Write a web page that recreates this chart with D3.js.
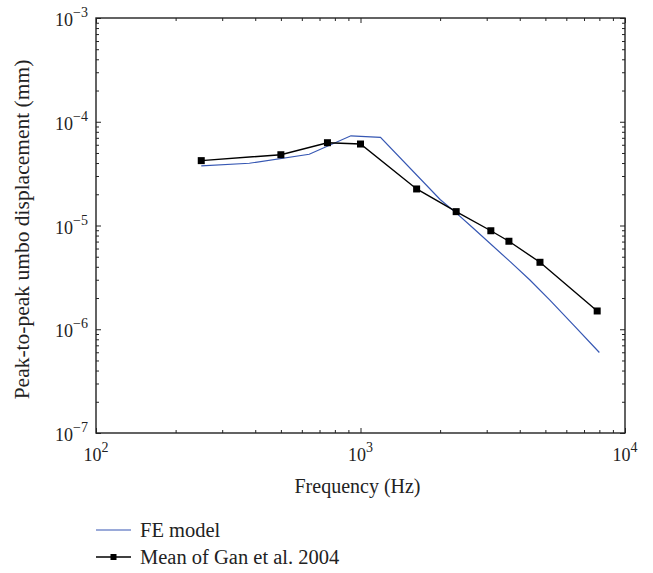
<!DOCTYPE html>
<html>
<head>
<meta charset="utf-8">
<script src="https://cdn.jsdelivr.net/npm/d3@7"></script>
<style>
  html, body { margin: 0; padding: 0; background: #fff; }
  svg { display: block; }
  text { font-family: "Liberation Serif", "DejaVu Serif", serif; fill: #222; }
</style>
</head>
<body>
<svg id="chart" width="653" height="573"></svg>
<script>
// FE model umbo response
const feFreq = [250, 380, 640, 920, 1190, 2000, 2310, 2670, 3680, 4370, 5200, 6380, 8000];
const feDisp = [3.75e-5, 3.98e-5, 4.86e-5, 7.32e-5, 7.08e-5, 1.78e-5, 1.31e-5, 9.4e-6, 4.48e-6, 2.98e-6, 1.91e-6, 1.10e-6, 5.97e-7];

// Mean measured response (Gan et al. 2004)
const ganFreq = [250, 500, 750, 1000, 1630, 2300, 3110, 3640, 4770, 7850];
const ganDisp = [4.22e-5, 4.81e-5, 6.28e-5, 6.10e-5, 2.25e-5, 1.36e-5, 8.9e-6, 7.05e-6, 4.42e-6, 1.50e-6];

// Axis ticks (powers of ten)
const xMajorExp = [2, 3, 4];
const yMajorExp = [-7, -6, -5, -4, -3];

const legendLabels = ["FE model", "Mean of Gan et al. 2004"];
const xTitle = "Frequency (Hz)";
const yTitle = "Peak-to-peak umbo displacement (mm)";

const blue = "#3657b3";
const margin = { left: 96, top: 18 };
const W = 529, H = 415;

const svg = d3.select("#chart");
const g = svg.append("g").attr("transform", `translate(${margin.left},${margin.top})`);

const x = d3.scaleLog().domain([1e2, 1e4]).range([0, W]);
const y = d3.scaleLog().domain([1e-7, 1e-3]).range([H, 0]);

const xMajor = xMajorExp.map(e => Math.pow(10, e));
const yMajor = yMajorExp.map(e => Math.pow(10, e));
const minorOf = (exps) => {
  const out = [];
  for (let i = 0; i < exps.length - 1; i++)
    for (let m = 2; m <= 9; m++) out.push(m * Math.pow(10, exps[i]));
  return out;
};
const xMinor = minorOf(xMajorExp);
const yMinor = minorOf(yMajorExp);

function tickAxis(axisFn, scale, values, size) {
  return axisFn(scale).tickValues(values).tickSize(-size).tickFormat("");
}

function addAxis(transform, axis) {
  const a = g.append("g").attr("transform", transform).call(axis);
  a.select(".domain").remove();
  a.selectAll("line").attr("stroke", "#222").attr("stroke-width", 1);
  return a;
}

// inward ticks on all four sides
[[`translate(0,${H})`, d3.axisBottom, x], ["translate(0,0)", d3.axisTop, x],
 ["translate(0,0)", d3.axisLeft, y], [`translate(${W},0)`, d3.axisRight, y]].forEach(([t, fn, sc]) => {
  const isX = sc === x;
  addAxis(t, tickAxis(fn, sc, isX ? xMajor : yMajor, 5));
  addAxis(t, tickAxis(fn, sc, isX ? xMinor : yMinor, 3));
});

// frame
g.append("rect").attr("x", 0).attr("y", 0).attr("width", W).attr("height", H)
  .attr("fill", "none").attr("stroke", "#222").attr("stroke-width", 1.4);

// tick labels with superscript exponents
const fmtExp = e => (e < 0 ? "\u2212" + Math.abs(e) : String(e));

const xl = g.append("g").selectAll("text").data(xMajorExp).join("text")
  .attr("x", d => x(Math.pow(10, d)))
  .attr("y", H + 28)
  .attr("text-anchor", "middle")
  .style("font-size", "18px");
xl.append("tspan").text("10");
xl.append("tspan").attr("dy", -9).style("font-size", "14px").text(d => fmtExp(d));

const yl = g.append("g").selectAll("text").data(yMajorExp).join("text")
  .attr("x", -8)
  .attr("y", d => y(Math.pow(10, d)) + 8)
  .attr("text-anchor", "end")
  .style("font-size", "18px");
yl.append("tspan").text("10");
yl.append("tspan").attr("dy", -9).style("font-size", "14px").text(d => fmtExp(d));

// axis titles
svg.append("text").attr("x", margin.left + x(1e3) - 3).attr("y", 493)
  .attr("text-anchor", "middle").style("font-size", "20px").text(xTitle);
svg.append("text")
  .attr("transform", `translate(29,${margin.top + H / 2 + 4}) rotate(-90)`)
  .attr("text-anchor", "middle").style("font-size", "21.5px").text(yTitle);

// series
const line = d3.line().x(d => x(d[0])).y(d => y(d[1]));
const feData = feFreq.map((f, i) => [f, feDisp[i]]);
const ganData = ganFreq.map((f, i) => [f, ganDisp[i]]);

g.append("path").datum(feData).attr("d", line)
  .attr("fill", "none").attr("stroke", blue).attr("stroke-width", 1.2);

g.append("path").datum(ganData).attr("d", line)
  .attr("fill", "none").attr("stroke", "#000").attr("stroke-width", 1.4);

const ms = 7;
g.append("g").selectAll("rect").data(ganData).join("rect")
  .attr("x", d => x(d[0]) - ms / 2).attr("y", d => y(d[1]) - ms / 2)
  .attr("width", ms).attr("height", ms).attr("fill", "#000");

// legend
const lg = svg.append("g");
const rows = [530, 557];
lg.append("line").attr("x1", 96).attr("x2", 131).attr("y1", rows[0]).attr("y2", rows[0])
  .attr("stroke", blue).attr("stroke-width", 1.1);
lg.append("line").attr("x1", 96).attr("x2", 131).attr("y1", rows[1]).attr("y2", rows[1])
  .attr("stroke", "#000").attr("stroke-width", 1.4);
lg.append("rect").attr("x", 113.5 - 3).attr("y", rows[1] - 3).attr("width", 6).attr("height", 6).attr("fill", "#000");
lg.selectAll("text").data(legendLabels).join("text")
  .attr("x", 140).attr("y", (d, i) => rows[i] + 6.5)
  .style("font-size", "20.5px").text(d => d);
</script>
</body>
</html>
